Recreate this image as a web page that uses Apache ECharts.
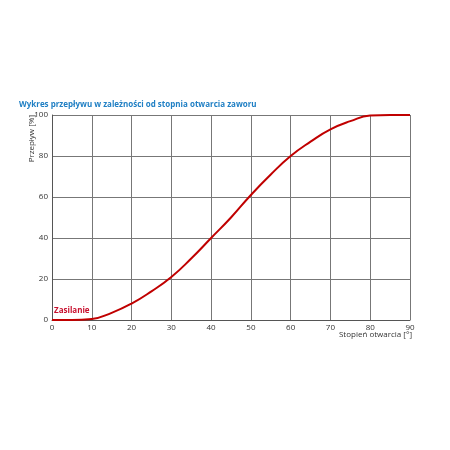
<!DOCTYPE html>
<html>
  <head>
    <meta charset="UTF-8" />
    <script src="https://cdn.jsdelivr.net/npm/echarts@6/dist/echarts.min.js"></script>
  </head>
  <body style="margin:0">
    <div id="chart" style="height: 450px; width: 450px"></div>
    <script>
      var stopien = [0, 5, 10, 15, 20, 25, 30, 35, 40, 45, 50, 55, 60, 65, 70, 75, 80, 85, 90];
      var przeplyw = [0, 0, 0.5, 3.5, 8, 14, 21, 30, 40, 50, 61, 71, 80, 87, 93, 97, 99.7, 100, 100];

      var data = [];
      for (var i = 0; i < stopien.length; i++) {
        data.push([stopien[i], przeplyw[i]]);
      }

      var option = {
        backgroundColor: "#fff",
        textStyle: { fontFamily: "Open Sans" },
        title: {
          text: "Wykres przepływu w zależności od stopnia otwarcia zaworu",
          left: 14,
          top: 96,
          textStyle: { fontSize: 8, fontWeight: "bold", color: "#1f7fc4" },
        },
        grid: { left: 52, right: 40, top: 115, bottom: 130 },
        xAxis: {
          type: "value",
          min: 0,
          max: 90,
          interval: 10,
          axisLine: { lineStyle: { color: "#555" } },
          axisTick: { show: false },
          axisLabel: { fontSize: 8, color: "#333", margin: 4 },
          splitLine: { lineStyle: { color: "#777" } },
        },
        yAxis: {
          type: "value",
          min: 0,
          max: 100,
          interval: 20,
          axisLine: { show: true, lineStyle: { color: "#555" } },
          axisTick: { show: false },
          axisLabel: { fontSize: 8, color: "#333", margin: 4 },
          splitLine: { lineStyle: { color: "#777" } },
        },
        graphic: [
          {
            type: "text",
            left: 54,
            top: 307,
            style: { text: "Zasilanie", fill: "#c8102e", font: "bold 8px Open Sans" },
          },
          {
            type: "text",
            x: 28,
            y: 115,
            rotation: Math.PI / 2,
            style: { text: "Przepływ [%]", fill: "#333", font: "8px Open Sans", align: "right", verticalAlign: "top" },
          },
          {
            type: "text",
            right: 38,
            top: 331,
            style: { text: "Stopień otwarcia [°]", fill: "#333", font: "8px Open Sans" },
          },
        ],
        series: [
          {
            type: "line",
            data: data,
            smooth: true,
            symbol: "none",
            lineStyle: { color: "#c00000", width: 2 },
          },
        ],
      };
      var myChart = echarts.init(document.getElementById("chart"));
      myChart.setOption(option);
    </script>
  </body>
</html>
